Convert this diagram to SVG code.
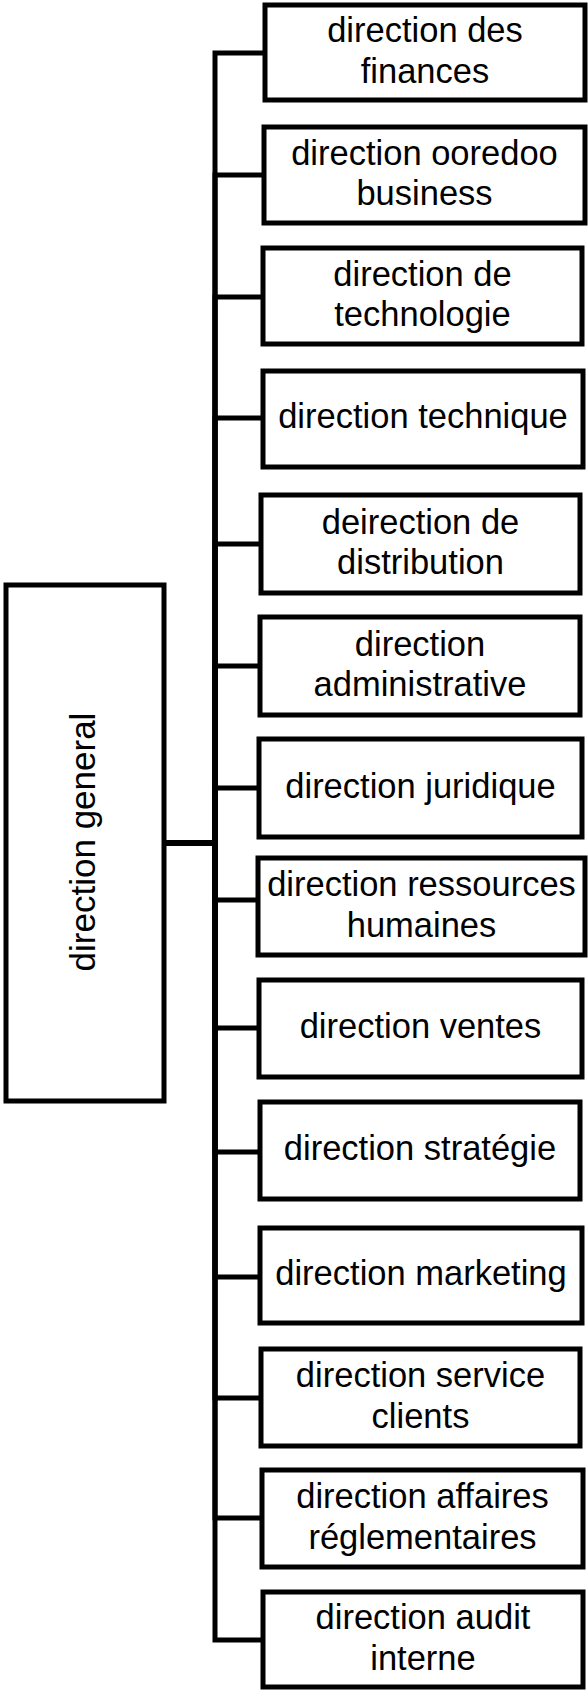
<svg xmlns="http://www.w3.org/2000/svg" width="588" height="1690" viewBox="0 0 588 1690">
<style>
.box{fill:#fff;stroke:#000;stroke-width:5}
.conn{fill:none;stroke:#000;stroke-width:5;stroke-linejoin:miter;stroke-linecap:butt}
.lbl{font-family:'Liberation Sans',Arial,sans-serif;font-size:34.5px;fill:#000;text-anchor:middle}
.main{font-family:'Liberation Sans',Arial,sans-serif;font-size:35px;fill:#000;text-anchor:middle}
</style>
<rect width="588" height="1690" fill="#fff"/>
<g id="connectors">
<path class="conn" d="M164,843 H215 V53 H265"/>
<path class="conn" d="M164,843 H215 V175 H264"/>
<path class="conn" d="M164,843 H215 V297 H263"/>
<path class="conn" d="M164,843 H215 V418 H263"/>
<path class="conn" d="M164,843 H215 V544 H261"/>
<path class="conn" d="M164,843 H215 V666 H260"/>
<path class="conn" d="M164,843 H215 V788 H259"/>
<path class="conn" d="M164,843 H215 V900 H258"/>
<path class="conn" d="M164,843 H215 V1028 H259"/>
<path class="conn" d="M164,843 H215 V1152 H260"/>
<path class="conn" d="M164,843 H215 V1277 H260"/>
<path class="conn" d="M164,843 H215 V1398 H261"/>
<path class="conn" d="M164,843 H215 V1518 H262"/>
<path class="conn" d="M164,843 H215 V1640 H263"/>
</g>
<g id="n0">
<rect class="box" x="6" y="585" width="158" height="516"/>
<text class="main" transform="translate(95,842) rotate(-90)">direction general</text>
</g>
<g id="n1">
<rect class="box" x="265" y="5" width="320" height="95"/>
<text class="lbl" x="425" y="42">direction des</text>
<text class="lbl" x="425" y="83">finances</text>
</g>
<g id="n2">
<rect class="box" x="264" y="127" width="321" height="96"/>
<text class="lbl" x="424.5" y="164.5">direction ooredoo</text>
<text class="lbl" x="424.5" y="205">business</text>
</g>
<g id="n3">
<rect class="box" x="263" y="248" width="319" height="96"/>
<text class="lbl" x="422.5" y="285.5">direction de</text>
<text class="lbl" x="422.5" y="326">technologie</text>
</g>
<g id="n4">
<rect class="box" x="263" y="371" width="320" height="96"/>
<text class="lbl" x="423" y="428">direction technique</text>
</g>
<g id="n5">
<rect class="box" x="261" y="495" width="319" height="98"/>
<text class="lbl" x="420.5" y="533.5">deirection de</text>
<text class="lbl" x="420.5" y="574">distribution</text>
</g>
<g id="n6">
<rect class="box" x="260" y="617" width="320" height="98"/>
<text class="lbl" x="420" y="655.5">direction</text>
<text class="lbl" x="420" y="696">administrative</text>
</g>
<g id="n7">
<rect class="box" x="259" y="739" width="323" height="98"/>
<text class="lbl" x="420.5" y="798">direction juridique</text>
</g>
<g id="n8">
<rect class="box" x="258" y="858" width="327" height="97"/>
<text class="lbl" x="421.5" y="896">direction ressources</text>
<text class="lbl" x="421.5" y="936.5">humaines</text>
</g>
<g id="n9">
<rect class="box" x="259" y="980" width="323" height="97"/>
<text class="lbl" x="420.5" y="1038">direction ventes</text>
</g>
<g id="n10">
<rect class="box" x="260" y="1102" width="320" height="97"/>
<text class="lbl" x="420" y="1160">direction stratégie</text>
</g>
<g id="n11">
<rect class="box" x="260" y="1228" width="322" height="95"/>
<text class="lbl" x="421" y="1285">direction marketing</text>
</g>
<g id="n12">
<rect class="box" x="261" y="1349" width="319" height="97"/>
<text class="lbl" x="420.5" y="1387">direction service</text>
<text class="lbl" x="420.5" y="1427.5">clients</text>
</g>
<g id="n13">
<rect class="box" x="262" y="1470" width="321" height="97"/>
<text class="lbl" x="422.5" y="1508">direction affaires</text>
<text class="lbl" x="422.5" y="1548.5">réglementaires</text>
</g>
<g id="n14">
<rect class="box" x="263" y="1592" width="320" height="95"/>
<text class="lbl" x="423" y="1629">direction audit</text>
<text class="lbl" x="423" y="1669.5">interne</text>
</g>
</svg>
